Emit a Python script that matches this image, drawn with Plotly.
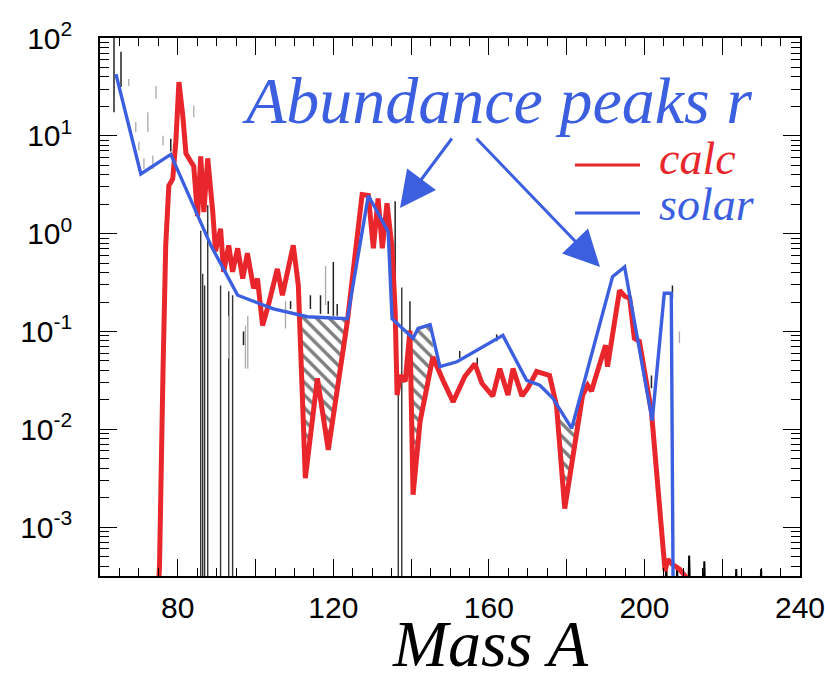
import numpy as np
import plotly.graph_objects as go

# ---------------- data ----------------
# calculated r-process abundances (red)
calc_A = [74.8, 75.3, 76.2, 76.9, 77.7, 78.7, 79.5, 80.3, 81.3, 82.1, 83.3, 84.1, 85.1, 85.9, 86.7,
          87.7, 89.0, 89.7, 91.0, 91.8, 93.1, 94.1, 95.4, 96.7, 97.9, 99.5, 100.5, 101.8, 103.3,
          105.6, 106.9, 109.7, 111.0, 112.8, 115.9, 118.7, 123.6, 127.4, 129.0, 130.3, 131.5,
          132.6, 133.8, 135.1, 135.9, 136.4, 137.2, 138.5, 139.7, 140.5, 142.3, 145.6, 148.2,
          150.8, 153.8, 156.4, 158.2, 161.0, 162.8, 164.9, 166.2, 168.5, 170.0, 172.3, 175.6,
          177.4, 179.5, 182.6, 184.1, 185.4, 186.4, 187.2, 189.2, 190.0, 190.5, 191.8, 193.6,
          194.9, 196.2, 197.4, 198.7, 201.8, 205.3, 206.0, 207.2, 209.0, 211.5]
calc_log = [-3.8, -3.4, -1.41, -0.12, 0.49, 0.56, 0.94, 1.55, 1.20, 0.82, 0.74, 0.69, 0.18, 0.79, 0.22,
            0.77, 0.22, -0.18, 0.05, -0.39, -0.12, -0.39, -0.15, -0.46, -0.20, -0.56, -0.46, -0.94, -0.73,
            -0.36, -0.63, -0.12, -0.53, -2.50, -1.48, -2.21, -0.90, 0.40, 0.39, -0.15, 0.36,
            -0.15, 0.31, -0.15, -0.80, -1.65, -1.45, -1.51, -0.99, -2.67, -1.92, -1.26, -1.50,
            -1.72, -1.46, -1.33, -1.53, -1.66, -1.38, -1.65, -1.38, -1.66, -1.58, -1.41, -1.45,
            -1.76, -2.81, -2.06, -1.65, -1.55, -1.61, -1.50, -1.24, -1.14, -1.36, -1.00, -0.58,
            -0.64, -0.66, -1.07, -1.10, -1.82, -3.45, -3.33, -3.38, -3.43, -3.55]

# solar r-process abundances (blue)
solar_A = [64.1, 70.5, 78.2, 88.5, 95.4, 104.6, 113.3, 123.6, 129.0, 134.1, 135.1, 140.5, 141.8,
           144.9, 147.4, 151.8, 163.6, 169.7, 173.1, 176.4, 181.3, 191.8, 194.9, 202.0, 205.1,
           206.9, 207.4]
solar_log = [1.63, 0.61, 0.81, -0.12, -0.63, -0.77, -0.85, -0.87, 0.39, 0.02, -0.87, -1.07, -0.97,
             -0.93, -1.36, -1.31, -1.04, -1.50, -1.55, -1.68, -1.99, -0.44, -0.34, -1.91, -0.61,
             -0.61, -3.8]

# measured data: deep spikes (top value, drop to bottom)
spike_A = [85.9, 86.4, 86.9, 87.7, 91.0, 93.1, 94.1, 136.7, 137.6]
spike_log = [0.03, -0.41, -0.53, 0.29, -0.53, -0.59, -0.63, -1.55, -0.55]

# measured data: small bumps above the bottom of the frame
tail_A = [205.6, 208.4, 211.5, 215.4, 223.6, 230.0]
tail_log = [-3.35, -3.40, -3.29, -3.35, -3.43, -3.43]

# error bars (dark)
errd_A = [63.6, 65.4, 78.2, 96.9, 109.0, 114.1, 116.7, 118.7, 120.0, 121.0, 135.9, 139.7, 152.5,
          157.0, 162.0, 201.8, 207.2]
errd_lo = [1.24, 1.50, 0.84, -1.14, -0.77, -0.77, -0.82, -0.82, -0.84, -0.84, -0.50, -1.04, -1.27,
           -1.35, -1.10, -1.58, -0.66]
errd_hi = [2.05, 1.86, 0.97, -1.00, -0.69, -0.63, -0.63, -0.69, -0.29, -0.72, 0.33, -0.69, -1.20,
           -1.27, -1.03, -1.45, -0.53]

# error bars (light grey)
errl_A = [67.4, 69.2, 70.0, 71.3, 72.3, 73.6, 74.4, 76.2, 84.1, 93.1, 97.4, 98.0, 107.7, 118.0,
          209.0]
errl_lo = [1.51, 1.04, 0.85, 0.66, 1.04, 0.66, 1.38, 0.90, 1.19, -1.28, -1.38, -1.38, -0.97, -0.73,
           -1.12]
errl_hi = [1.58, 1.14, 0.94, 0.77, 1.24, 0.80, 1.51, 1.00, 1.31, -0.84, -0.94, -0.84, -0.69, -0.33,
           -1.00]

# mass ranges where the solar curve lies above the calculation (hatched)
hatch_ranges = [(111.8, 123.6), (139.9, 145.6), (176.2, 182.6)]

x_ticks = [60, 80, 100, 120, 140, 160, 180, 200, 220, 240]
x_ticklabels = ["", "80", "", "120", "", "160", "", "200", "", "240"]
y_exps = [-3, -2, -1, 0, 1, 2]

# ---------------- styling ----------------
RED = "#e8262b"
BLUE = "#3c5fe0"
BOTTOM = 1e-4

calc_v = [10 ** v for v in calc_log]
solar_v = [10 ** v for v in solar_log]

fig = go.Figure()

# hatched regions
for a0, a1 in hatch_ranges:
    grid = sorted(set([a0, a1] + [a for a in calc_A if a0 < a < a1] + [a for a in solar_A if a0 < a < a1]))
    grid = np.array(grid)
    lo = np.interp(grid, calc_A, calc_log)
    hi = np.maximum(np.interp(grid, solar_A, solar_log), lo)
    xs = list(grid) + list(grid[::-1])
    ys = list(10 ** hi) + list(10 ** lo[::-1])
    fig.add_trace(go.Scatter(x=xs, y=ys, mode="lines", fill="toself", line=dict(width=0),
                             fillcolor="rgba(255,255,255,0)",
                             fillpattern=dict(shape="\\", fgcolor="black", bgcolor="white",
                                              size=9, solidity=0.38),
                             hoverinfo="skip", showlegend=False))

# spikes to the bottom
sx, sy = [], []
for a, v in zip(spike_A, spike_log):
    sx += [a, a, None]
    sy += [10 ** v, BOTTOM, None]
fig.add_trace(go.Scatter(x=sx, y=sy, mode="lines", line=dict(color="#333333", width=1.4),
                         showlegend=False, hoverinfo="skip"))

tx, ty = [], []
for a, v in zip(tail_A, tail_log):
    tx += [a - 0.4, a, a + 0.4, None]
    ty += [BOTTOM, 10 ** v, BOTTOM, None]
fig.add_trace(go.Scatter(x=tx, y=ty, mode="lines", line=dict(color="black", width=2),
                         showlegend=False, hoverinfo="skip"))

for A_, lo_, hi_, col, w in [(errl_A, errl_lo, errl_hi, "#aaaaaa", 1.3),
                             (errd_A, errd_lo, errd_hi, "#222222", 1.5)]:
    ex, ey = [], []
    for a, l, h in zip(A_, lo_, hi_):
        ex += [a, a, None]
        ey += [10 ** l, 10 ** h, None]
    fig.add_trace(go.Scatter(x=ex, y=ey, mode="lines", line=dict(color=col, width=w),
                             showlegend=False, hoverinfo="skip"))

# calc (red)
fig.add_trace(go.Scatter(x=calc_A, y=calc_v, mode="lines", name="calc",
                         line=dict(color=RED, width=5), showlegend=False))
# solar (blue)
fig.add_trace(go.Scatter(x=solar_A, y=solar_v, mode="lines", name="solar",
                         line=dict(color=BLUE, width=3.4), showlegend=False))

# ---------------- axes ----------------
tickfam = "Liberation Sans, Arial"
minor_y = [m * 10 ** e for e in range(-4, 2) for m in range(2, 10)]
fig.update_xaxes(range=[60, 240], tickmode="array", tickvals=x_ticks, ticktext=x_ticklabels,
                 ticks="inside", ticklen=17, tickwidth=1.3, tickcolor="black",
                 showline=True, linecolor="black", linewidth=1.6, mirror="ticks",
                 showgrid=False, zeroline=False, ticklabelstandoff=4, ticklabeloverflow="allow",
                 automargin=False,
                 tickfont=dict(family=tickfam, size=30, color="black"),
                 minor=dict(ticks="inside", ticklen=8, dtick=5, tickwidth=1, tickcolor="black",
                            showgrid=False))
fig.update_yaxes(type="log", range=[-3.5, 2.0], tickmode="array",
                 tickvals=[10 ** e for e in y_exps],
                 ticktext=["10<sup>%d</sup>" % e for e in y_exps],
                 ticks="inside", ticklen=17, tickwidth=1.3, tickcolor="black",
                 showline=True, linecolor="black", linewidth=1.6, mirror="ticks",
                 showgrid=False, zeroline=False, ticklabelstandoff=20, ticklabeloverflow="allow",
                 automargin=False,
                 tickfont=dict(family=tickfam, size=30, color="black"),
                 minor=dict(ticks="inside", ticklen=9, tickmode="array", tickvals=minor_y,
                            tickwidth=1, tickcolor="black", showgrid=False))

# ---------------- annotations ----------------
L, R, T, B, W, H = 100, 25, 38, 105, 825, 681
PW, PH = W - L - R, H - T - B


def px(x):
    return (x - L) / PW


def py(y):
    return (H - B - y) / PH


serif = "Liberation Serif, Times New Roman, serif"
fig.add_annotation(x=px(497), y=py(100), xref="paper", yref="paper", showarrow=False,
                   xanchor="center", yanchor="middle",
                   text="<i>Abundance peaks r</i>", font=dict(family=serif, size=66, color=BLUE))
fig.add_annotation(x=px(657), y=py(158), xref="paper", yref="paper", showarrow=False,
                   xanchor="left", yanchor="middle",
                   text="<i>calc</i>", font=dict(family=serif, size=46, color=RED))
fig.add_annotation(x=px(657), y=py(205), xref="paper", yref="paper", showarrow=False,
                   xanchor="left", yanchor="middle",
                   text="<i>solar</i>", font=dict(family=serif, size=46, color=BLUE))
fig.add_annotation(x=px(490), y=py(643), xref="paper", yref="paper", showarrow=False,
                   xanchor="center", yanchor="middle",
                   text="<i>Mass A</i>", font=dict(family=serif, size=66, color="black"))

fig.add_shape(type="line", xref="paper", yref="paper", x0=px(575), x1=px(640), y0=py(165), y1=py(165),
              line=dict(color=RED, width=3))
fig.add_shape(type="line", xref="paper", yref="paper", x0=px(575), x1=px(640), y0=py(213), y1=py(213),
              line=dict(color=BLUE, width=3))

for hx, hy, tx_, ty_ in [(400, 208, 453, 137), (600, 267, 475, 137)]:
    fig.add_annotation(x=px(hx), y=py(hy), xref="paper", yref="paper", text="",
                       showarrow=True, ax=tx_ - hx, ay=ty_ - hy, arrowhead=2, arrowsize=2.4,
                       arrowwidth=3, arrowcolor=BLUE, standoff=0)

fig.update_layout(width=W, height=H, margin=dict(l=L, r=R, t=T, b=B, autoexpand=False),
                  paper_bgcolor="white", plot_bgcolor="white", showlegend=False)

fig.write_html("out.html")
